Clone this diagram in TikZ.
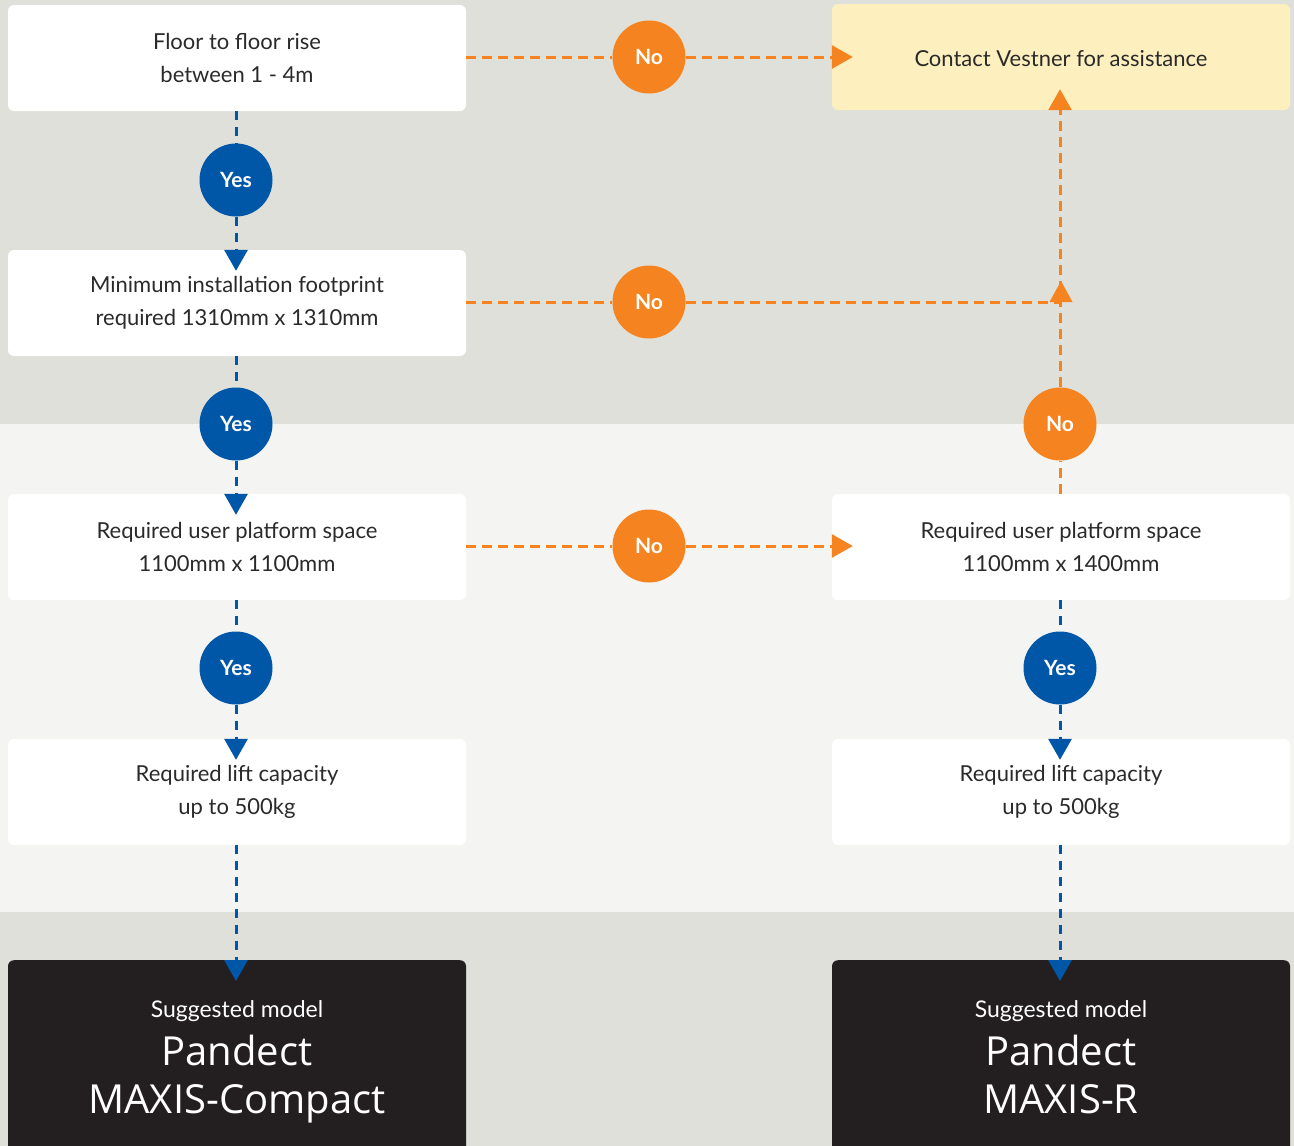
\documentclass[tikz,border=0pt]{standalone}
\usepackage{fontspec}
\setmainfont{Lato}
\newfontfamily\bigfont{Open Sans}
\usetikzlibrary{arrows.meta}
\definecolor{bgdark}{HTML}{DFE0DA}
\definecolor{bglight}{HTML}{F4F4F2}
\definecolor{vorange}{HTML}{F58420}
\definecolor{vblue}{HTML}{0057A8}
\definecolor{vyellow}{HTML}{FDEFBE}
\definecolor{vdark}{HTML}{231F20}
\definecolor{vtext}{HTML}{2A2A2A}
\tikzset{
  qbox/.style={fill=white, rounded corners=6pt, minimum width=458pt, minimum height=106pt, inner sep=0pt, align=center, text=vtext, font=\fontsize{22}{33}\selectfont},
  ybox/.style={qbox, fill=vyellow, text height=24pt, text depth=5pt},
  dbox/.style={fill=vdark, rounded corners=6pt, minimum width=458pt, minimum height=220pt, inner sep=0pt},
  smalltxt/.style={text=white, font=\fontsize{23}{23}\selectfont},
  bigtxt/.style={text=white, align=center, font=\bigfont\fontsize{40}{48}\selectfont},
  yescirc/.style={circle, fill=vblue, minimum size=73pt, inner sep=0pt, text=white, font=\fontsize{21}{21}\selectfont\bfseries},
  nocirc/.style={yescirc, fill=vorange},
  bline/.style={draw=vblue, line width=3pt, dash pattern=on 9pt off 7pt},
  oline/.style={draw=vorange, line width=3pt, dash pattern=on 10pt off 6pt},
  btip/.style={-{Triangle[length=21pt,width=23pt]}},
}
\begin{document}
\begin{tikzpicture}[x=1pt,y=-1pt]
\useasboundingbox (0,0) rectangle (1294,1146);
\fill[bgdark] (0,0) rectangle (1294,424);
\fill[bglight] (0,424) rectangle (1294,912);
\fill[bgdark] (0,912) rectangle (1294,1146);

% boxes
\node[qbox] (b1) at (237,58) {Floor to floor rise\\between 1 - 4m};
\node[ybox] (c) at (1061,57) {Contact Vestner for assistance};
\node[qbox] (b2) at (237,303) {Minimum installation footprint\\required 1310mm x 1310mm};
\node[qbox] (b3) at (237,547) {Required user platform space\\1100mm x 1100mm};
\node[qbox] (b3r) at (1061,547) {Required user platform space\\1100mm x 1400mm};
\node[qbox] (b4) at (237,792) {Required lift capacity\\up to 500kg};
\node[qbox] (b4r) at (1061,792) {Required lift capacity\\up to 500kg};
\node[dbox, anchor=north] (d1) at (237,960) {};
\node[dbox, anchor=north] (d2) at (1061,960) {};
\node[smalltxt] (s1) at (237,1011) {Suggested model};
\node[smalltxt] (s2) at (1061,1011) {Suggested model};
\node[bigtxt] (t1) at (237,1079) {Pandect\\MAXIS-Compact};
\node[bigtxt, anchor=north] (t2) at (t1.north -| d2) {Pandect\\MAXIS-R};

% circles
\node[yescirc] (y1) at (236,180) {Yes};
\node[yescirc] (y2) at (236,424) {Yes};
\node[yescirc] (y3) at (236,668) {Yes};
\node[yescirc] (y4) at (1060,668) {Yes};
\node[nocirc] (n1) at (649,57) {No};
\node[nocirc] (n2) at (649,302) {No};
\node[nocirc] (n3) at (649,546) {No};
\node[nocirc] (n4) at (1060,424) {No};

% blue connectors
\draw[bline] (b1.south -| y1) -- (y1.north);
\draw[bline, btip, vblue] (y1.south) -- ([yshift=-21pt]b2.north -| y1);
\draw[bline] (b2.south -| y2) -- (y2.north);
\draw[bline, btip, vblue] (y2.south) -- ([yshift=-21pt]b3.north -| y2);
\draw[bline] (b3.south -| y3) -- (y3.north);
\draw[bline, btip, vblue] (y3.south) -- ([yshift=-21pt]b4.north -| y3);
\draw[bline] (b3r.south -| y4) -- (y4.north);
\draw[bline, btip, vblue] (y4.south) -- ([yshift=-21pt]b4r.north -| y4);
\draw[bline, btip, vblue] (b4.south -| y3) -- ([yshift=-21pt]d1.north -| y3);
\draw[bline, btip, vblue] (b4r.south -| y4) -- ([yshift=-21pt]d2.north -| y4);

% orange connectors
\draw[oline] (b1.east |- n1) -- (n1.west);
\draw[oline, btip, vorange] (n1.east) -- ([xshift=21pt]c.west);
\draw[oline] (b2.east |- n2) -- (n2.west);
\coordinate (j) at (1061,302);
\draw[oline] (n2.east) -- (j);
\draw[oline] (b3.east |- n3) -- (n3.west);
\draw[oline, btip, vorange] (n3.east) -- ([xshift=21pt]b3r.west |- n3);
\draw[oline] (b3r.north -| n4) -- (n4.south);
\draw[oline, btip, vorange] (n4.north) -- ([yshift=21pt]c.south -| n4);
\fill[vorange] ([xshift=-11.5pt]j) -- ([xshift=11.5pt]j) -- ([yshift=21pt]j) -- cycle;
\end{tikzpicture}
\end{document}
